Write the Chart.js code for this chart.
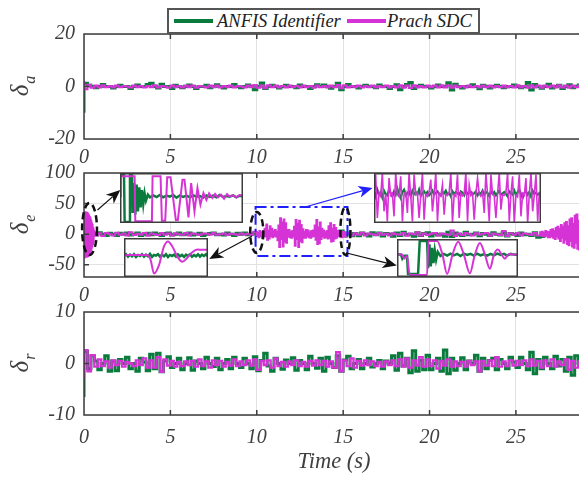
<!DOCTYPE html>
<html>
<head>
<meta charset="utf-8">
<script src="https://cdn.jsdelivr.net/npm/chart.js@4.4.1/dist/chart.umd.min.js"></script>
<style>
  html, body { margin: 0; padding: 0; background: #fff; overflow: hidden; }
  #fig { position: relative; width: 579px; height: 477px; overflow: hidden; background: #fff; }
  #fig canvas.panel { position: absolute; left: 0; }
  .inset { position: absolute; background: #fff; z-index: 3; }
  #legend { position: absolute; left: 167px; top: 8px; width: 313px; height: 26px; box-sizing: border-box;
            border: 2px solid #555; background: #fff; z-index: 5;
            font: italic 18.5px "Liberation Serif", "DejaVu Serif", "Times New Roman", Times, serif; color: #222; }
  #legend span { position: absolute; white-space: nowrap; }
  #legend .sw { top: 9px; width: 39px; height: 4px; }
  #legend .lb { top: 0px; line-height: 22px; }
</style>
</head>
<body>
<div id="fig">
  <canvas id="pa" class="panel" width="584" height="170" style="top:0px"></canvas>
  <canvas id="pe" class="panel" width="584" height="155" style="top:150px"></canvas>
  <canvas id="pr" class="panel" width="584" height="187" style="top:290px"></canvas>
  <div id="legend">
    <span class="sw" style="left:5px;background:#0a7b3d"></span><span class="lb" style="left:48px">ANFIS Identifier</span>
    <span class="sw" style="left:178px;background:#d633d6"></span><span class="lb" style="left:218px">Prach SDC</span>
  </div>
</div>
<script>
// ─────────────────────────────────────────────
//  DATI
// ─────────────────────────────────────────────
const GREEN = '#0a7b3d';
const MAGENTA = '#d633d6';
const X_TICKS = [0, 5, 10, 15, 20, 25];
const X_MAX = 28.94;
const DT = 0.2;

// δa
const A_TICKS = [-20, 0, 20];
const A_ANFIS = [
  -10, 1.2, 0.5, 0, -0.5, 0, 0.8, 0, 0, -0.6,
  0, 0.5, 0, 0, -0.8, 0, 0.6, 0, 0, 0.8,
  1.2, 0, -0.6, 0.9, 0, 0, -0.8, 0.5, 0, -0.5,
  0, 0.6, 0, -0.8, 0, 0, 0.5, -0.5, 0, 0.7,
  0, -0.6, 0, 0, 0.8, 0, -0.5, 0, 0.6, 0,
  -1.2, 0, 1.3, -0.8, 0, 0.5, 0, -0.6, 0, 0.5,
  0, 0, -0.5, 0.6, 0, 0, -0.8, 0, 0.7, 0,
  0.6, 0, -0.7, 0, 1.2, -1.2, 0, 0.8, 0, 0,
  -0.6, 0, 0.5, 0, 0, -0.5, 0.6, 0, 0, -0.8,
  0, 0.7, -1.2, 0, 0.8, 1.5, -0.8, 0, 0.5, 0,
  0, -0.6, 0, 0.6, 0, 0, 1.4, -1.3, 0.9, 0,
  -0.6, 0, 0, 0.7, 0, -0.9, 0.5, 0, -0.6, 0,
  0.5, 0, -0.5, 0, 0, 0.6, 0, -0.5, 0, 1.5,
  -1.3, 0.8, 0, -0.7, 0, 0.9, -0.6, 0, 0.5, -0.8,
  0, 0.7, -0.5, 0, 0.6
];
const A_PRACH = [
  2.2, -1, 0.6, -0.4, 0.3, -0.3, 0.4, -0.2, 0.2, -0.3,
  0.3, -0.2, 0.2, 0, -0.3, 0.3, -0.2, 0.2, -0.3, 0.2,
  -0.2, 0.4, -0.3, 0.2, 0, -0.4, 0.3, -0.2, 0.2, -0.3,
  0.3, -0.2, 0.3, -0.4, 0.2, 0, -0.3, 0.3, -0.2, 0.3,
  -0.3, 0.2, -0.2, 0.3, -0.3, 0.2, 0, -0.3, 0.3, -0.2,
  0.5, -0.4, 0.3, -0.6, 0.4, -0.2, 0.3, -0.3, 0.2, -0.3,
  0.3, -0.2, 0.2, -0.3, 0.3, -0.2, 0.2, -0.4, 0.3, -0.2,
  0.2, -0.3, 0.3, -0.2, 0.5, -0.6, 0.4, -0.3, 0.2, -0.2,
  0.3, -0.3, 0.2, -0.2, 0.3, -0.3, 0.2, -0.2, 0.3, -0.3,
  0.2, -0.3, 0.4, -0.4, 0.3, -0.5, 0.4, -0.3, 0.2, -0.3,
  0.3, -0.2, 0.3, -0.3, 0.4, -0.3, 0.3, -0.4, 0.3, -0.2,
  0.2, -0.3, 0.3, -0.2, 0.2, -0.3, 0.3, -0.2, 0.3, -0.3,
  0.2, -0.2, 0.3, -0.3, 0.2, -0.3, 0.4, -0.3, 0.2, -0.4,
  0.4, -0.3, 0.3, -0.4, 0.3, -0.2, 0.3, -0.3, 0.4, -0.3,
  0.3, -0.4, 0.3, -0.2, 0.3
];

// δe
const E_TICKS = [-50, 0, 50, 100];
const E_MIN = -70;
const E_ANFIS = [
  -22, 18, -3, 2, -1.5, 2.5, 0, -2, 1.5, 0,
  -2, 1.5, 0, 2, -1.5, 0, 2, -2, 0, 1.5,
  -1, 2, 0, -2, 1, 2, -1.5, 0, 1.8, -1,
  0, 2, -1.5, 0, 1.5, -2, 0, 1, 2, -1,
  0, -1.5, 2, 0, -2, 1.5, 0, 2, -1, 0,
  1.5, -2, 0, 2, -1, 0, 1.5, -2, 1, 0,
  -1.5, 2, 0, -1, 2, 0, -2, 1.5, 0, -1,
  2, -1.5, 0, 1.5, -2, 5, -3, 2, -2.5, 1,
  -2.5, 2, 0, -3, 2.5, -1, 2, -3, 1, 0,
  -3.5, 2, -2, 3, -1, 0, -3.5, 2.5, -2, 1,
  2.5, -3, 1, -1.5, 0, -3.5, 3, -4, 2, 0,
  -2, 3, -1, 0, 2, -2.5, 1, 0, -2, 2.5,
  0, -1.5, 2.5, -3, 1, 0, -2, 2, -1, 0,
  -2, 2.5, -5, -4, 1.5, -1, 2, 0, -2, 1.5,
  -1, 2, -2, 1, 0
];
// Prach SDC on δe, sampled in pieces: start / quiet / bursts / quiet / growth
const E_PRACH_T0 = [0, 0.6, 10, 15.4, 26.45];
const E_PRACH_DT = [0.02, 0.2, 0.05, 0.2, 0.05];
const E_PRACH_START = [
  0, 35, -38, 34, -36, 36, -35, 33, -37, 35,
  -34, 34, -36, 32, -33, 30, -32, 28, -30, 26,
  -27, 22, -24, 18, -20, 15, -16, 10, -12, 6
];
const E_PRACH_QUIET1 = [
  3, -2, 1.5, -3, 2, 0, -2, 2.5, -1, 1,
  -2, 3, -1.5, 0.5, -1, 2, -2.5, 1, 0, -1.5,
  2, -1, 1, -2, 1.5, 0, -1, 2, -2, 1,
  0, -1.5, 1, 0.5, -1, 2, -1, 0, 1, -1.5,
  0.8, 0, -1, 1.2, -0.5, 0.5, -1
];
const E_PRACH_BURSTS = [
  4, -3, 2, -5, 5, -2, 3, -6, 4, -3,
  9, -4, 16, -9, 6, -7, 13, -3, 9, -5,
  5, -3, 7, -4, 4,
  -10, 14, -21, 26, -8, 19, -20, 24, -12, 18, -14, 7,
  -4, 7, -5, 3, -6, 5, -4,
  12, -19, 23, -8, 17, -21, 22, -11, 15, -13, 8,
  -6, 4, -6, 7, -3, 6, -5, 3, -6, 5, -4, 6, -3,
  14, -9, 23, -16, 11, -15, 19, -8, 9,
  -4, 6, -6, 3, -5, 5,
  -7, 13, -6, 18, -12, 9, -11, 15, -7, 10, -6, 5,
  -3, 5, -4, 2, -5, 4, -3, 3, -4, 2
];
const E_PRACH_QUIET2 = [
  2, -2, 1.5, -1, 2.5, -2, 1, 0, -1.5, 2,
  -1, 0.5, -2, 1.5, 0, -1, 2, -2.5, 1, -0.5,
  3, -2, 1, -1.5, 0.5, 2, -2, 1, 0, -1,
  6, -3, 1, -1.5, 2, 0, -2, 1.5, -1, 0.5,
  2, -2.5, 1, 0, -1.5, 5, -3, 1.5, -1, 2,
  -2, 1, 0, -1.5, 2, -2
];
const E_PRACH_GROW = [
  3, -2, 4, -3, 2, -4, 5, -2, 4, -5,
  3, -5, 7, -3, 8, -6, 5, -8, 10, -4,
  12, -7, 9, -11, 15, -6, 12, -14, 18, -9,
  20, -16, 13, -18, 24, -11, 26, -20, 17, -22,
  30, -14, 32, -24, 22, -25, 34, -18, 28, -27
];

// δr
const R_TICKS = [-10, 0, 10];
const R_ANFIS = [
  -6.5, 2.4, -1, 1.5, 0.5, -1.2, 0, 1.5, -1.5, 0.5,
  -1.4, 0.8, 0, 1.2, -1, 0, -1.5, 1, 0.3, -1.4,
  1.8, -1, 2, -1.6, 0.5, 1.3, -0.8, 0, 1, -1.2,
  0, 1.1, -1.3, 0.5, 0, -1, 1.2, 0, -0.6, 1,
  -1.2, 0, 0.8, -1, 1.2, 0, -0.8, 1, 0, -1,
  1.3, -1.4, 0.6, 2, -0.5, -1.5, 1, 0, -1.1, 0.7,
  0, 1.1, -1.3, 0.6, 0, -1.2, 1.4, 0, -0.9, 1,
  -1.5, 1.2, 0, -0.8, 1.5, -1.5, 0.7, 1.4, -1, 0,
  0.8, -1, 0, 1, -0.7, 0, 0.6, -1, 0.5, 0,
  1.5, -1.3, 2, -0.5, 1, -1.8, 2.5, -1.5, 0.6, -1.2,
  1.6, -1.2, 0, 1, -1.5, 2.6, -2, 1, -1.3, 0,
  1.1, -1.2, 0.5, 0, 1.6, -1.5, 1, -1, 0.6, 1,
  -1.2, 0.8, 0, -1, 1.2, 0.3, -0.8, 1.2, 0, -1.2,
  2.2, -2, 0.8, -1, 1.2, 0, -1, 1.4, -0.5, 0.8,
  -1.5, 1.2, -2.3, 1.5, 0
];
const R_PRACH = [
  -2.8, 2.6, -1.5, 1.6, -0.6, 0.8, -0.5, 0.4, -0.8, 0.6,
  -0.3, 0.5, -0.6, 0.3, 0, -0.5, 0.6, -0.3, 1, -0.8,
  0.6, -0.8, 1.2, -1.6, 0.8, -0.4, 0.5, -0.6, 0.3, -0.5,
  0.4, -0.3, 0.5, -0.6, 0.8, -0.5, 0.4, -0.8, 0.6, -0.3,
  0.5, -0.6, 0.3, -0.4, 0.8, -0.5, 0.4, -0.3, 0.6, -0.4,
  0.8, -1.2, 0.5, -0.3, 0.6, -0.8, 1, -0.5, 0.3, -0.6,
  0.4, -0.3, 0.6, -0.5, 0.3, -0.6, 0.5, -0.4, 0.6, -0.3,
  0.5, -0.6, 0.4, -0.8, 2.2, -1.5, 0.6, -0.5, 1, -0.8,
  0.5, -0.4, 0.6, -0.3, 0.4, -0.5, 0.3, -0.6, 0.4, -0.3,
  0.6, -0.5, 0.8, -0.6, 1, -0.8, 0.6, -0.4, 1.2, -0.6,
  0.8, -0.5, 0.6, -1, 0.5, -0.4, 0.8, -0.6, 0.4, -0.5,
  0.3, -0.6, 0.5, -0.3, 0.4, -1.5, 0.5, -0.4, 0.6, -0.5,
  1.2, -0.6, 0.4, -0.5, 0.6, -0.4, 0.5, -0.3, 0.6, -0.5,
  0.8, -0.4, 0.5, -0.8, 0.6, -0.5, 0.8, -0.6, 0.4, -0.3,
  0.8, -1.2, 0.5, -0.8, 0.4
];

// zoom insets (own time base and scale)
const INA_PRACH_T = [0, 0.2, 4.4, 4.6, 9.6, 9.8, 12.2, 12.6, 13.6, 14.2, 15.2, 16.8, 17.4, 18.8, 19.4, 20.6, 21.4, 22.4, 23.3, 24.2, 25.1, 26, 26.8, 27.8, 28.6, 29.5, 30.4, 31.3, 32.2, 33, 34, 35, 36, 37];
const INA_PRACH   = [5, 65, 65, -70, -70, 65, 65, -68, -68, 62, 62, -66, -66, 55, 55, -58, 45, -40, 30, -20, 15, -6, 14, 0, 12, 2, 10, -2, 12, 4, 8, 2, 9, 6];
const INA_ANFIS_T = [0, 0.4, 1.2, 1.4, 2.8, 3.0, 3.6, 3.8, 4.2, 4.6, 5.0, 5.4, 5.8, 6.2, 6.6, 7.0, 7.4, 7.8, 8.4, 9.0, 10, 11, 12, 13, 14, 15, 16, 17, 18, 19, 20, 21, 22, 23, 24, 25, 26, 27, 28, 29, 30, 31, 32, 33, 34, 35, 36, 37];
const INA_ANFIS   = [70, 70, 70, -72, -72, 70, 70, -45, 45, -50, 40, -40, 32, -28, 24, -18, 14, -8, 10, 2, 8, 3, 9, 2, 7, 4, 9, 1, 8, 3, 7, 2, 8, 4, 6, 1, 8, 3, 7, 2, 9, 3, 6, 4, 8, 2, 7, 5];

const INB_PRACH_T = [0, 7, 8, 9, 10.5, 12, 13.2, 14.5, 16, 17.5, 19, 20.5, 22, 23.5, 25.2];
const INB_PRACH   = [0, 0, -15, -55, -30, 25, 40, 25, -5, -20, -8, 8, 16, 15, 15];
const INB_ANFIS   = [
  -2, 2, -5, 1, -4, 2, -6, 0, -3, 2, -5, 1, -4, 3, -6, 0, -2, 2, -5, 1,
  -4, 2, -6, 0, -3, 1, -5, 2, -4, 0, -6, 1, -3, 2, -5, 0, -4, 2, -5, 1,
  -3, 2, -4
];

const INC_PRACH = [
  10, 70, -60, 15, 5, 75, -40, 12, -70, 60,
  8, 14, -55, 75, 10, 4, 65, -70, 12, 18,
  -45, 75, 6, -70, 70, 10, 15, -60, 8, 75,
  -65, 12, 5, 18, 55, -40, 10, 75, -70, 14,
  6, 40, -50, 12, 8, 16, 75, -75, 10, 5,
  70, -60, 14, 6, 12, 75, -70, 40, 8, 15,
  -65, 10, 60, 12, 5, 18, -45, 75, 10, -70,
  70, 12, 6, -60, 14, 75, -35, 10, 8, 16,
  75, -70, 12, 65, -75, 10, 4, 70, -55, 14,
  8, 60, -75, 12, 75, -40, 10, 70, -70, 15, 10
];
const INC_ANFIS = [
  20, 5, 25, 10, 18, 2, 22, 12, 8, 25,
  15, 5, 20, 10, 28, 12, 0, 18, 25, 8,
  15, 20, 5, 22, 12, 18, 10, 25, 6, 15,
  20, 12, 18, 8, 14, 22, 10, 16, 20, 12,
  8, 18, 14, 22, 10, 15, 5, 20, 12, 18,
  14, 10, 20, 16, 8, 22, 12, 15, 18, 10,
  14, 20, 8, 16, 12, 22, 10, 18, 15, 6,
  20, 12, 18, 8, 15, 22, 10, 14, 18, 12,
  5, 20, 15, 10, 22, 8, 18, 25, 12, 0,
  15, 20, 10, 18, 5, 22, 12, 16, 10, 14, 18
];

const IND_PRACH_T = [0, 1.5, 2.2, 3.0, 3.8, 9.0, 9.4, 12.0, 13.6, 15.0, 16.6, 18.3, 20.0, 21.8, 23.3, 24.8, 26.3, 27.8, 29.0, 30.2, 31.3, 32.3, 33.4, 34.6, 36.2];
const IND_PRACH   = [0, 0, -12, -4, -60, -60, 40, 40, 0, -57, 0, 38, 0, -55, 0, 34, 0, -42, 0, 15, 0, -12, 2, 0, 0];
const IND_ANFIS_T = [0, 1.2, 1.6, 2.2, 3.0, 3.3, 6.3, 6.8, 9.0, 9.3, 9.7, 10.1, 10.5, 10.9, 11.3, 11.7, 12.2, 13, 14, 15, 16, 17, 18, 19, 20, 21, 22, 23, 24, 25, 26, 27, 28, 29, 30, 31, 32, 33, 34, 35, 36.2];
const IND_ANFIS   = [0, 0, -12, -3, -3, -57, -57, 40, 40, -40, 30, -35, 20, -25, 12, -15, 8, -4, 2, -3, 3, -2, 2, -4, 3, -1, 2, -3, 3, -2, 1, -3, 2, -2, 3, -1, 2, -3, 2, 0, -1];

// ─────────────────────────────────────────────
//  STILE
// ─────────────────────────────────────────────
const SERIF = '"Liberation Serif", "DejaVu Serif", "Times New Roman", Times, serif';
const TXT = '#404040';
const GRID = '#e2e2e2';
const AXIS = '#3c3c3c';
const TICK_FONT = { family: SERIF, style: 'italic', size: 20 };

const even = (vals, t0, dt) => vals.map((y, i) => ({ x: t0 + i * dt, y }));
const paired = (ts, vals) => ts.map((x, i) => ({ x, y: vals[i] }));

const frame = {
  id: 'frame',
  afterDatasetsDraw(chart) {
    const { ctx, chartArea: a, scales: { x, y } } = chart;
    ctx.save();
    ctx.strokeStyle = AXIS;
    ctx.lineWidth = 1.5;
    ctx.beginPath();
    ctx.moveTo(a.right + 2, a.top); ctx.lineTo(a.left, a.top);
    ctx.lineTo(a.left, a.bottom); ctx.lineTo(a.right + 2, a.bottom);
    x.ticks.forEach(t => {
      const px = x.getPixelForValue(t.value);
      ctx.moveTo(px, a.bottom); ctx.lineTo(px, a.bottom - 5);
      ctx.moveTo(px, a.top); ctx.lineTo(px, a.top + 5);
    });
    y.ticks.forEach(t => {
      const py = y.getPixelForValue(t.value);
      ctx.moveTo(a.left, py); ctx.lineTo(a.left + 5, py);
    });
    ctx.stroke();
    ctx.restore();
  }
};

function deltaLabel(sub) {
  return {
    id: 'delta',
    afterDraw(chart) {
      const { ctx, chartArea: a } = chart;
      ctx.save();
      ctx.translate(28, (a.top + a.bottom) / 2);
      ctx.rotate(-Math.PI / 2);
      ctx.fillStyle = TXT;
      ctx.textBaseline = 'alphabetic';
      ctx.font = `italic 25px ${SERIF}`;
      const w1 = ctx.measureText('δ').width;
      ctx.font = `italic 16px ${SERIF}`;
      const w2 = ctx.measureText(sub).width;
      const x0 = -(w1 + w2) / 2;
      ctx.font = `italic 25px ${SERIF}`;
      ctx.fillText('δ', x0, 0);
      ctx.font = `italic 16px ${SERIF}`;
      ctx.fillText(sub, x0 + w1 + 1, 7);
      ctx.restore();
    }
  };
}

function panel(id, o) {
  return new Chart(document.getElementById(id), {
    type: 'line',
    data: { datasets: [
      { data: o.prach, borderColor: MAGENTA, borderWidth: o.wP, stepped: 'after', order: 0 },
      { data: o.anfis, borderColor: GREEN, borderWidth: 3, stepped: 'after', order: 1 },
    ]},
    options: {
      responsive: false, animation: false, events: [],
      layout: { padding: { top: o.top, left: 0, right: 0, bottom: 0 } },
      elements: { point: { radius: 0 }, line: { tension: 0 } },
      plugins: { legend: { display: false }, tooltip: { enabled: false } },
      scales: {
        x: {
          type: 'linear', min: 0, max: X_MAX,
          afterBuildTicks: s => { s.ticks = X_TICKS.map(v => ({ value: v })); },
          afterFit: s => { s.height = o.xh; s.paddingLeft = 0; s.paddingRight = 0; },
          grid: { color: GRID, drawTicks: false },
          border: { display: false },
          ticks: { font: TICK_FONT, color: TXT, padding: o.xpad, maxRotation: 0, autoSkip: false },
          title: o.title ? { display: true, text: o.title, color: TXT,
                             font: { family: SERIF, style: 'italic', size: 22.5 }, padding: { top: 0, bottom: 1 } }
                         : { display: false }
        },
        y: {
          min: o.ymin, max: o.ticks[o.ticks.length - 1],
          afterBuildTicks: s => { s.ticks = o.ticks.map(v => ({ value: v })); },
          afterFit: s => { s.width = 84; s.paddingTop = 0; s.paddingBottom = 0; },
          grid: { color: GRID, drawTicks: false },
          border: { display: false },
          ticks: { font: TICK_FONT, color: TXT, padding: 9 }
        }
      }
    },
    plugins: [frame, deltaLabel(o.sub)].concat(o.extra || [])
  });
}

// ─────────────────────────────────────────────
//  ANNOTAZIONI (pannello δe)
// ─────────────────────────────────────────────
const ELLIPSES = [[0.32, 8.5, 0.43, 42.5], [10.0, 2.8, 0.38, 33.5], [15.13, 5.2, 0.29, 39]];
const ZOOM_BOX = [9.93, 15.25, -35.6, 44.5];
const ARROWS = [
  { from: [0.78, 39.6], to: [2.1, 72.2], color: '#111' },
  { from: [9.73, -2.9], to: [7.25, -40.5], color: '#111' },
  { from: [12.8, 44.5], to: [16.7, 75.5], color: '#1f1fff' },
  { from: [15.2, -30.7], to: [18.1, -51.2], color: '#111' },
];

const marks = {
  id: 'marks',
  afterDatasetsDraw(chart) {
    const { ctx, scales: { x, y } } = chart;
    ctx.save();
    // blue dash-dot box
    ctx.strokeStyle = '#1f1fff';
    ctx.lineWidth = 2;
    ctx.setLineDash([11, 4, 3, 4]);
    const bx = x.getPixelForValue(ZOOM_BOX[0]), bx2 = x.getPixelForValue(ZOOM_BOX[1]);
    const by = y.getPixelForValue(ZOOM_BOX[3]), by2 = y.getPixelForValue(ZOOM_BOX[2]);
    ctx.strokeRect(bx, by, bx2 - bx, by2 - by);
    // black dashed ellipses
    ctx.strokeStyle = '#111';
    ctx.lineWidth = 2.5;
    ctx.setLineDash([7, 4]);
    ELLIPSES.forEach(([cx, cy, rx, ry]) => {
      const px = x.getPixelForValue(cx), py = y.getPixelForValue(cy);
      ctx.beginPath();
      ctx.ellipse(px, py, Math.abs(x.getPixelForValue(cx + rx) - px), Math.abs(y.getPixelForValue(cy + ry) - py), 0, 0, Math.PI * 2);
      ctx.stroke();
    });
    ctx.setLineDash([]);
    // arrows
    ARROWS.forEach(a => {
      const x0 = x.getPixelForValue(a.from[0]), y0 = y.getPixelForValue(a.from[1]);
      const x1 = x.getPixelForValue(a.to[0]), y1 = y.getPixelForValue(a.to[1]);
      const len = Math.hypot(x1 - x0, y1 - y0), dx = (x1 - x0) / len, dy = (y1 - y0) / len;
      const L = 14, W = 6, N = 10;
      ctx.strokeStyle = a.color; ctx.fillStyle = a.color; ctx.lineWidth = 1.2;
      ctx.beginPath(); ctx.moveTo(x0, y0); ctx.lineTo(x1 - dx * N, y1 - dy * N); ctx.stroke();
      ctx.beginPath();
      ctx.moveTo(x1, y1);
      ctx.lineTo(x1 - dx * L - dy * W, y1 - dy * L + dx * W);
      ctx.lineTo(x1 - dx * N, y1 - dy * N);
      ctx.lineTo(x1 - dx * L + dy * W, y1 - dy * L - dx * W);
      ctx.closePath(); ctx.fill();
    });
    ctx.restore();
  }
};

// ─────────────────────────────────────────────
//  GRAFICI
// ─────────────────────────────────────────────
panel('pa', {
  top: 34, xh: 31, xpad: 7, sub: 'a', wP: 2.2, ticks: A_TICKS, ymin: A_TICKS[0],
  anfis: even(A_ANFIS, 0, DT), prach: even(A_PRACH, 0, DT)
});

const ePrach = [E_PRACH_START, E_PRACH_QUIET1, E_PRACH_BURSTS, E_PRACH_QUIET2, E_PRACH_GROW]
  .flatMap((seg, k) => even(seg, E_PRACH_T0[k], E_PRACH_DT[k]));
const chartE = panel('pe', {
  top: 23, xh: 28, xpad: 6.5, sub: 'e', wP: 2, ticks: E_TICKS, ymin: E_MIN,
  anfis: even(E_ANFIS, 0, DT), prach: ePrach, extra: [marks]
});

panel('pr', {
  top: 22, xh: 62, xpad: 10.5, sub: 'r', wP: 2.4, ticks: R_TICKS, ymin: R_TICKS[0], title: 'Time (s)',
  anfis: even(R_ANFIS, 0, DT), prach: even(R_PRACH, 0, DT)
});

// insets: box in δe data units [t0, t1, vBottom, vTop]
const INSETS = [
  { box: [2.11, 9.23, 18.3, 100], xr: [0, 37], yr: [-75, 75], mono: false,
    prach: paired(INA_PRACH_T, INA_PRACH), anfis: paired(INA_ANFIS_T, INA_ANFIS), wP: 2, wA: 2.5 },
  { box: [2.29, 7.15, -70, -6.2], xr: [0, 25.2], yr: [-65, 50], mono: true,
    prach: paired(INB_PRACH_T, INB_PRACH), anfis: even(INB_ANFIS, 0, 0.6), wP: 2, wA: 2.5 },
  { box: [16.81, 26.48, 18.3, 100], xr: [0, 100], yr: [-75, 75], mono: false,
    prach: even(INC_PRACH, 0, 1), anfis: even(INC_ANFIS, 0, 1), wP: 1.6, wA: 2.2 },
  { box: [18.14, 25.14, -70, -7.8], xr: [0, 36.2], yr: [-66, 46], mono: true,
    prach: paired(IND_PRACH_T, IND_PRACH), anfis: paired(IND_ANFIS_T, IND_ANFIS), wP: 2, wA: 2.5 },
];

const insetBorder = {
  id: 'insetBorder',
  afterDraw(chart) {
    const { ctx, width, height } = chart;
    ctx.save();
    ctx.strokeStyle = AXIS; ctx.lineWidth = 1.5;
    ctx.strokeRect(0.75, 0.75, width - 1.5, height - 1.5);
    ctx.restore();
  }
};

const eTop = 150;
INSETS.forEach(ins => {
  const { x, y } = chartE.scales;
  const l = Math.round(x.getPixelForValue(ins.box[0])), r = Math.round(x.getPixelForValue(ins.box[1]));
  const t = Math.round(y.getPixelForValue(ins.box[3])), b = Math.round(y.getPixelForValue(ins.box[2]));
  const cv = document.createElement('canvas');
  cv.className = 'inset';
  cv.width = r - l; cv.height = b - t;
  cv.style.left = l + 'px'; cv.style.top = (eTop + t) + 'px';
  document.getElementById('fig').appendChild(cv);
  new Chart(cv, {
    type: 'line',
    data: { datasets: [
      { data: ins.prach, borderColor: MAGENTA, borderWidth: ins.wP, order: 0,
        cubicInterpolationMode: ins.mono ? 'monotone' : 'default' },
      { data: ins.anfis, borderColor: GREEN, borderWidth: ins.wA, order: 1 },
    ]},
    options: {
      responsive: false, animation: false, events: [],
      layout: { padding: 0 },
      elements: { point: { radius: 0 }, line: { tension: 0 } },
      plugins: { legend: { display: false }, tooltip: { enabled: false } },
      scales: {
        x: { type: 'linear', display: false, min: ins.xr[0], max: ins.xr[1] },
        y: { display: false, min: ins.yr[0], max: ins.yr[1] }
      }
    },
    plugins: [insetBorder]
  });
});
</script>
</body>
</html>
